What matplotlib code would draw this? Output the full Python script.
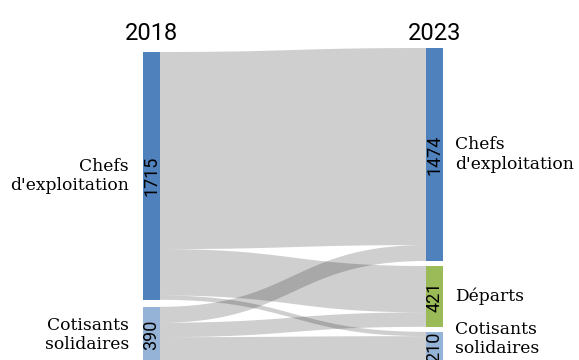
import numpy as np
import matplotlib.pyplot as plt
from matplotlib.patches import Polygon, Rectangle

# years and nodes of each column
years = ['2018', '2023']
left_labels = ["Chefs\nd'exploitation", 'Cotisants\nsolidaires']
left_values = [1715, 390]
right_labels = ["Chefs\nd'exploitation", 'Départs', 'Cotisants\nsolidaires']
right_values = [1474, 421, 210]
left_colors = ['#4f81bd', '#95b3d7']
right_colors = ['#4f81bd', '#9bbb59', '#95b3d7']

# flows (source index in left column, target index in right column, value)
flow_src = [0, 0, 0, 1, 1, 1]
flow_dst = [0, 1, 2, 0, 1, 2]
flow_val = [1364, 321, 30, 110, 100, 180]

scale = 0.1445          # pixels per person
node_w = 17
x_left, x_right = 143, 426
top_left, top_right = 52, 48
gap_left, gap_right = 7, 5
label_max_y = 339       # keep two-line labels inside the figure

fig = plt.figure(figsize=(5.79, 3.6), dpi=100)
ax = fig.add_axes([0, 0, 1, 1])
ax.set_xlim(0, 579)
ax.set_ylim(360, 0)
ax.axis('off')


def stack(values, top, gap):
    y0 = []
    y = top
    for v in values:
        y0.append(y)
        y += v * scale + gap
    return y0


left_y = stack(left_values, top_left, gap_left)
right_y = stack(right_values, top_right, gap_right)

# flow ribbons
out_pos = list(left_y)
in_pos = list(right_y)
t = np.linspace(0, 1, 80)
xa = x_left + node_w
xb = x_right
xs = (1 - t)**3 * xa + 3 * (1 - t)**2 * t * (xa + xb) / 2 + 3 * (1 - t) * t**2 * (xa + xb) / 2 + t**3 * xb
h = 3 * t**2 - 2 * t**3
order = sorted(range(len(flow_val)), key=lambda i: (flow_src[i], flow_dst[i]))
out_y = {}
for i in order:
    out_y[i] = out_pos[flow_src[i]]
    out_pos[flow_src[i]] += flow_val[i] * scale
order_in = sorted(range(len(flow_val)), key=lambda i: (flow_dst[i], flow_src[i]))
in_y = {}
for i in order_in:
    in_y[i] = in_pos[flow_dst[i]]
    in_pos[flow_dst[i]] += flow_val[i] * scale
for i in range(len(flow_val)):
    w = flow_val[i] * scale
    top = out_y[i] + (in_y[i] - out_y[i]) * h
    bot = top + w
    pts = np.concatenate([np.column_stack([xs, top]), np.column_stack([xs[::-1], bot[::-1]])])
    ax.add_patch(Polygon(pts, closed=True, facecolor='black', alpha=0.19, edgecolor='none'))

# nodes, values and labels
for y, v, c, lab in zip(left_y, left_values, left_colors, left_labels):
    hgt = v * scale
    ax.add_patch(Rectangle((x_left, y), node_w, hgt, facecolor=c, edgecolor='none'))
    ax.text(x_left + node_w / 2, y + hgt / 2, str(v), rotation=90, ha='center', va='center',
            fontsize=13, family='Roboto', color='black')
    ax.text(129, min(y + hgt / 2, label_max_y), lab, ha='right', va='center', fontsize=12.3,
            family='DejaVu Serif', color='black')
for y, v, c, lab in zip(right_y, right_values, right_colors, right_labels):
    hgt = v * scale
    ax.add_patch(Rectangle((x_right, y), node_w, hgt, facecolor=c, edgecolor='none'))
    ax.text(x_right + node_w / 2, y + hgt / 2, str(v), rotation=90, ha='center', va='center',
            fontsize=13, family='Roboto', color='black')
    ax.text(455, min(y + hgt / 2, label_max_y), lab, ha='left', va='center', fontsize=12.3,
            family='DejaVu Serif', color='black')

ax.text(x_left + node_w / 2, 40, years[0], ha='center', va='baseline', fontsize=17, family='Roboto')
ax.text(x_right + node_w / 2, 40, years[1], ha='center', va='baseline', fontsize=17, family='Roboto')

fig.savefig('out.png', dpi=100)
